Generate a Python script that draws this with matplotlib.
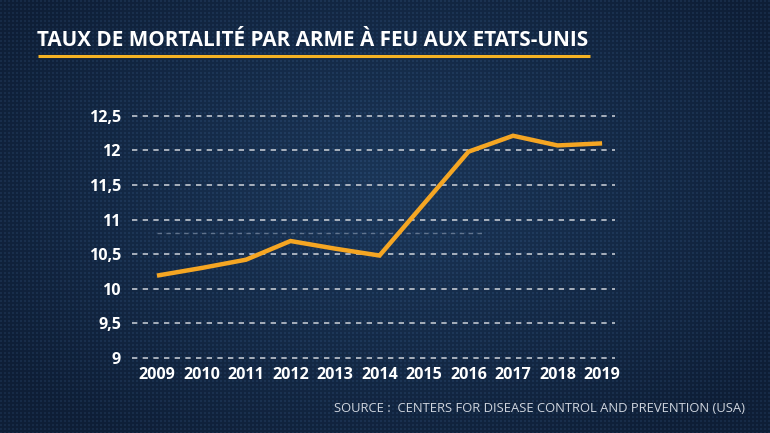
import numpy as np
import matplotlib.pyplot as plt

years = [2009, 2010, 2011, 2012, 2013, 2014, 2015, 2016, 2017, 2018, 2019]
rate = [10.19, 10.30, 10.42, 10.69, 10.58, 10.48, 11.23, 11.98, 12.21, 12.07, 12.10]
y_ticks = [9, 9.5, 10, 10.5, 11, 11.5, 12, 12.5]
y_labels = ["9", "9,5", "10", "10,5", "11", "11,5", "12", "12,5"]
# faint leftover dashed line seen in the source picture
ghost_level = 10.8
ghost_span = (2009.0, 2016.3)

title = "TAUX DE MORTALITÉ PAR ARME À FEU AUX ETATS-UNIS"
source = "SOURCE :  CENTERS FOR DISEASE CONTROL AND PREVENTION (USA)"

W, H = 770, 433
fig = plt.figure(figsize=(W / 100, H / 100), dpi=100)

# background: navy with vignette and dot texture
bg = fig.add_axes([0, 0, 1, 1])
yy, xx = np.mgrid[0:H, 0:W]
r = np.sqrt(((xx - W * 0.5) / (W * 0.6)) ** 2 + ((yy - H * 0.45) / (H * 0.7)) ** 2)
t = np.clip(r, 0, 1)
center = np.array([0x1b, 0x36, 0x58]) / 255
edge = np.array([0x0e, 0x1e, 0x36]) / 255
img = center[None, None, :] * (1 - t[..., None]) + edge[None, None, :] * t[..., None]
dots = ((xx % 4 < 2) & (yy % 4 < 2)).astype(float)
img = img + dots[..., None] * np.array([0.035, 0.05, 0.065])
bg.imshow(np.clip(img, 0, 1), aspect="auto", extent=[0, W, H, 0])
bg.set_xlim(0, W)
bg.set_ylim(H, 0)
bg.axis("off")

fs = ["Open Sans", "DejaVu Sans"]
bg.text(37, 41, title, color="white", fontsize=14.9, fontweight="bold",
        family=fs, va="center", ha="left")
bg.plot([38, 590], [56, 56], color="#f5b324", lw=2.2, solid_capstyle="butt")
bg.text(745, 409, source, color="#cfd5de", fontsize=9.4, family=fs,
        va="center", ha="right")

# chart area
ax = fig.add_axes([132 / W, 1 - 361.5 / H, (615 - 132) / W, (361.5 - 112.2) / H])
ax.set_facecolor("none")
ax.set_xlim(2008.44, 2019.29)
ax.set_ylim(8.95, 12.55)
for v in y_ticks:
    ax.axhline(v, color="#c0c6cf", lw=1.2, dashes=(3.2, 3.2), zorder=1)
ax.hlines(ghost_level, *ghost_span, color="#7f8fa6", lw=1.0,
          linestyles=(0, (3.2, 3.2)), alpha=0.7, zorder=1)
ax.plot(years, rate, color="#f5a623", lw=3.2, solid_joinstyle="miter",
        solid_capstyle="butt", zorder=3)

ax.set_yticks(y_ticks)
ax.set_yticklabels(y_labels)
ax.set_xticks(years)
ax.set_xticklabels([str(y) for y in years])
ax.tick_params(length=0, colors="white", labelsize=11.6)
ax.tick_params(axis="y", pad=8)
ax.tick_params(axis="x", pad=4)
for lab in ax.get_xticklabels() + ax.get_yticklabels():
    lab.set_fontweight("bold")
    lab.set_family(fs)
for s in ax.spines.values():
    s.set_visible(False)

fig.savefig("out.png", dpi=100)
